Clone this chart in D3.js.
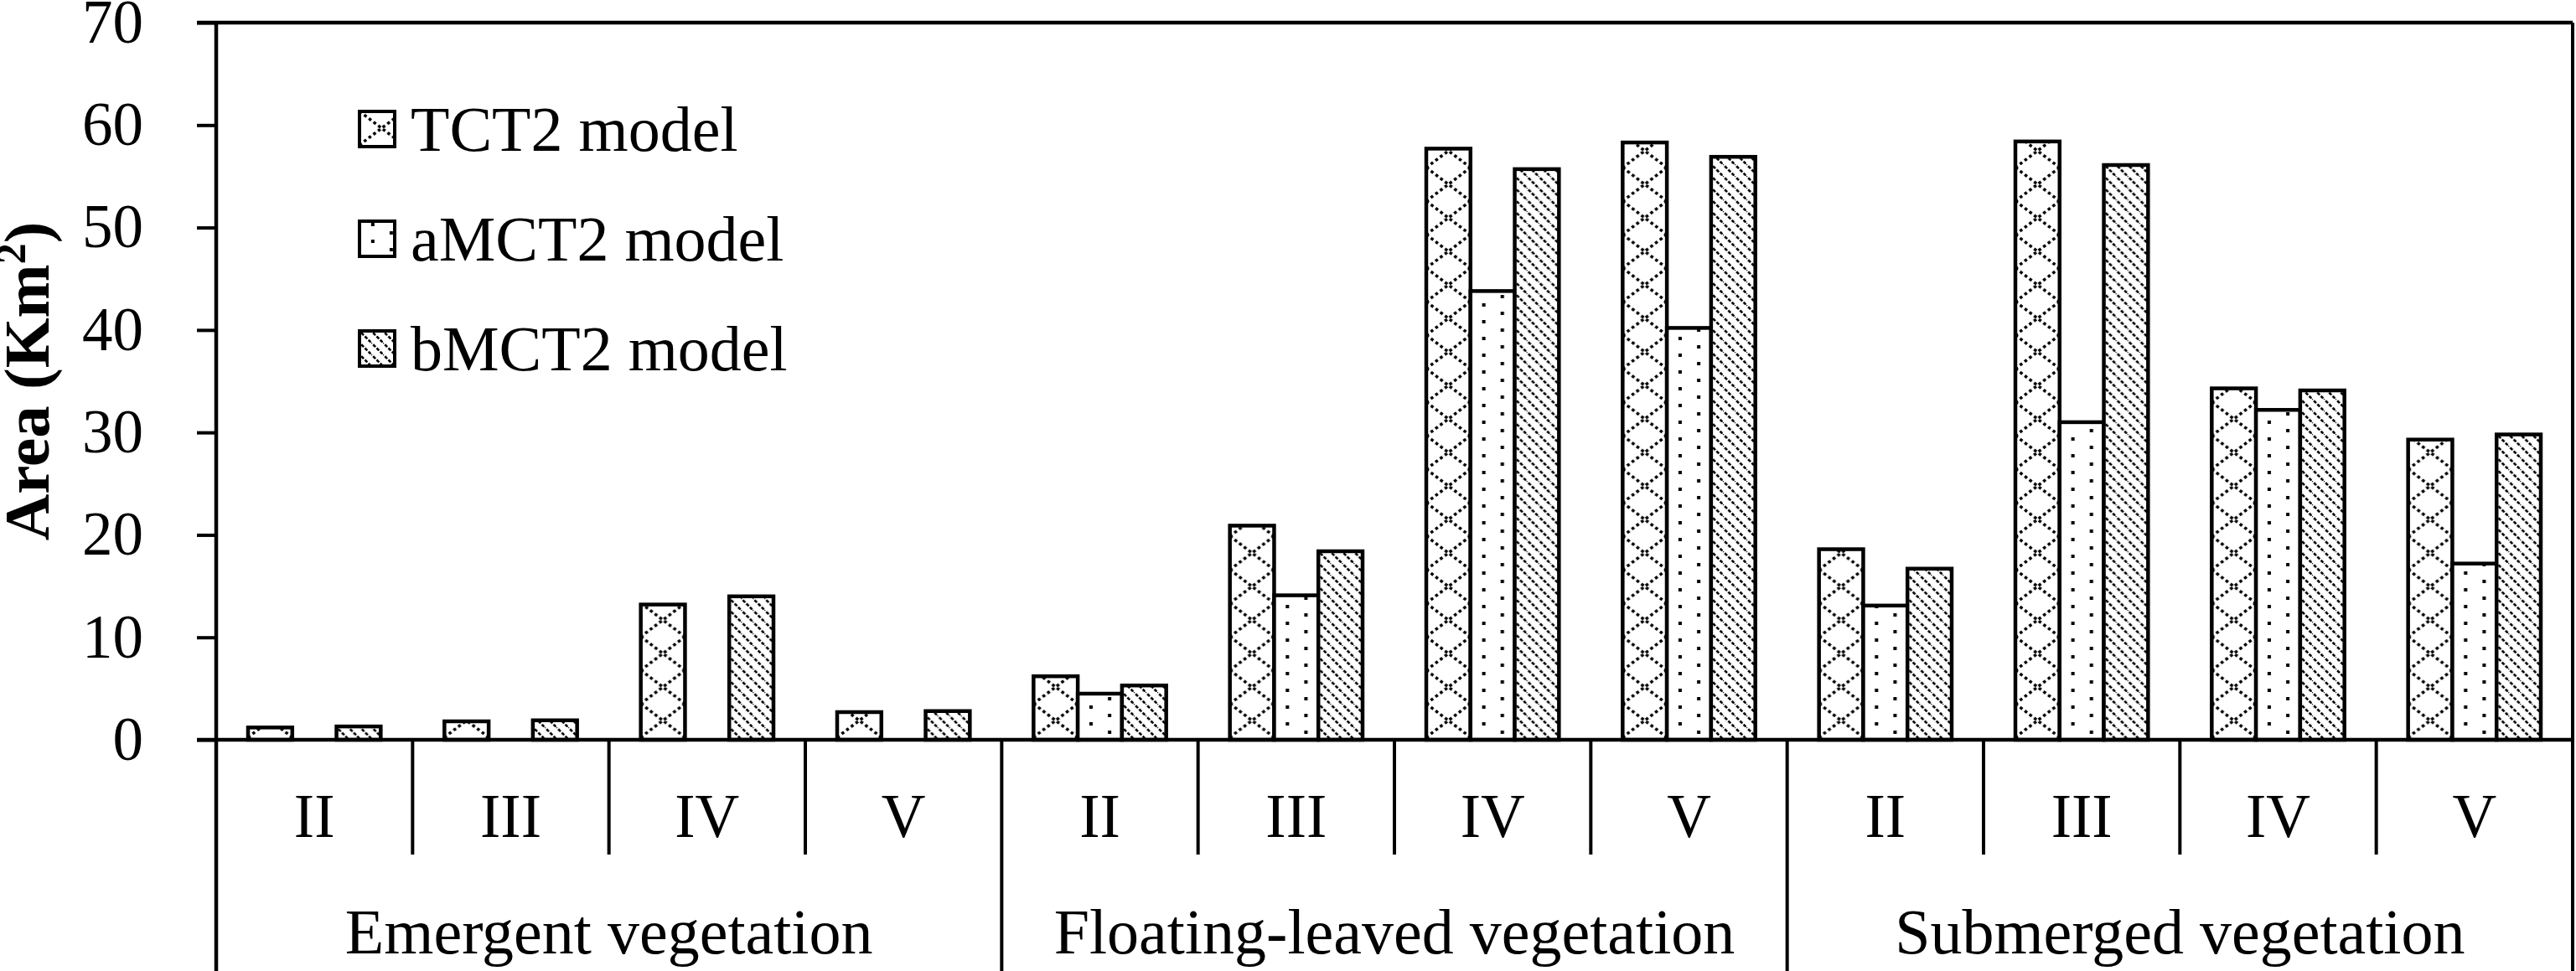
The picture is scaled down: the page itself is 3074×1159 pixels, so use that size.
<!DOCTYPE html>
<html>
<head>
<meta charset="utf-8">
<title>Area by vegetation type and model</title>
<script src="https://d3js.org/d3.v7.min.js"></script>
<style>
	body { margin: 0; background: #fff; }
	text { font-family: "Liberation Serif", "Times New Roman", serif; fill: #000; }
</style>
</head>
<body>
<script>
	// data (Km2), one value per class, groups in order
	var groups = ["Emergent vegetation", "Floating-leaved vegetation", "Submerged vegetation"];
	var classes = ["II", "III", "IV", "V"];
	var series = ["TCT2 model", "aMCT2 model", "bMCT2 model"];
	var tct2  = [1.2, 1.8, 13.2, 2.7,   6.2, 20.9, 57.7, 58.3,   18.6, 58.4, 34.3, 29.3];
	var amct2 = [null, null, null, null, 4.5, 14.1, 43.8, 40.2,   13.1, 31.0, 32.2, 17.2];
	var bmct2 = [1.3, 1.9, 14.0, 2.8,   5.3, 18.4, 55.7, 56.9,   16.7, 56.1, 34.1, 29.8];
	var yTicks = [0, 10, 20, 30, 40, 50, 60, 70];

	var width = 3074, height = 1159;
	// plot area (note: "top" is reserved on window)
	var plotLeft = 258, plotRight = 3070, plotTop = 27, plotBottom = 883;

	var svg = d3.select("body").append("svg")
		.attr("width", width)
		.attr("height", height);

	var cats = [];
	groups.forEach(function(g) {
		classes.forEach(function(c) { cats.push({ key: g + "|" + c, group: g, cls: c }); });
	});

	var x0 = d3.scaleBand().domain(cats.map(function(d) { return d.key; })).range([plotLeft, plotRight]);
	var x1 = d3.scaleBand().domain(series).range([0, x0.bandwidth()]).paddingOuter(0.72);
	var y = d3.scaleLinear().domain([0, 70]).range([plotBottom, plotTop]);
	var bw = x1.bandwidth();

	// fill patterns
	var defs = svg.append("defs");
	var p0 = defs.append("pattern").attr("id", "pat0").attr("patternUnits", "userSpaceOnUse")
		.attr("width", bw).attr("height", 40);
	p0.append("rect").attr("width", bw).attr("height", 40).attr("fill", "#fff");
	p0.append("path").attr("d", "M0,0L" + bw + ",40M" + bw + ",0L0,40")
		.attr("stroke", "#000").attr("stroke-width", 3.5).attr("stroke-dasharray", "3.5,3.5");

	var p1 = defs.append("pattern").attr("id", "pat1").attr("patternUnits", "userSpaceOnUse")
		.attr("width", bw).attr("height", 20);
	p1.append("rect").attr("width", bw).attr("height", 20).attr("fill", "#fff");
	p1.append("rect").attr("x", bw * 0.3 - 2).attr("y", 2).attr("width", 4).attr("height", 4).attr("fill", "#000");
	p1.append("rect").attr("x", bw * 0.72 - 2).attr("y", 12).attr("width", 4).attr("height", 4).attr("fill", "#000");

	var s = 14;
	var p2 = defs.append("pattern").attr("id", "pat2").attr("patternUnits", "userSpaceOnUse")
		.attr("width", s).attr("height", s);
	p2.append("rect").attr("width", s).attr("height", s).attr("fill", "#fff");
	p2.append("path").attr("d", "M-2,-2L" + (s + 2) + "," + (s + 2))
		.attr("stroke", "#000").attr("stroke-width", 2.6).attr("stroke-dasharray", "4,2");

	// bars
	var values = [tct2, amct2, bmct2];
	var data = [];
	cats.forEach(function(c, i) {
		series.forEach(function(sr, j) {
			if (values[j][i] != null) data.push({ cat: c.key, s: sr, j: j, v: values[j][i] });
		});
	});

	svg.selectAll("g.bar").data(data).enter().append("g")
		.attr("class", "bar")
		.attr("transform", function(d) { return "translate(" + (x0(d.cat) + x1(d.s)) + ",0)"; })
		.append("rect")
		.attr("x", 0)
		.attr("y", function(d) { return y(d.v); })
		.attr("width", bw)
		.attr("height", function(d) { return y(0) - y(d.v); })
		.attr("fill", function(d) { return "url(#pat" + d.j + ")"; })
		.attr("stroke", "#000")
		.attr("stroke-width", 4.5);

	// y axis
	var yAxis = svg.append("g")
		.attr("transform", "translate(" + plotLeft + ",0)")
		.call(d3.axisLeft(y).tickValues(yTicks).tickSize(23).tickPadding(64).tickSizeOuter(0));
	yAxis.select(".domain").remove();
	yAxis.selectAll(".tick line").attr("stroke", "#000").attr("stroke-width", 4);
	yAxis.selectAll(".tick text")
		.attr("font-family", "Liberation Serif, Times New Roman, serif")
		.attr("font-size", 73)
		.attr("fill", "#000");

	var lines = svg.append("g").attr("stroke", "#000");
	lines.append("line").attr("x1", plotLeft).attr("x2", plotLeft).attr("y1", plotTop).attr("y2", height).attr("stroke-width", 4.5);
	lines.append("line").attr("x1", plotRight).attr("x2", plotRight).attr("y1", plotTop).attr("y2", height).attr("stroke-width", 4);
	lines.append("line").attr("x1", plotLeft - 23).attr("x2", plotRight).attr("y1", y(70)).attr("y2", y(70)).attr("stroke-width", 4.5);
	lines.append("line").attr("x1", plotLeft - 23).attr("x2", plotRight).attr("y1", y(0)).attr("y2", y(0)).attr("stroke-width", 4.5);

	// category separators: short between classes, long between groups
	cats.forEach(function(c, i) {
		if (i == 0) return;
		var xx = x0(c.key);
		var isGroup = classes.indexOf(c.cls) == 0;
		lines.append("line").attr("x1", xx).attr("x2", xx)
			.attr("y1", y(0)).attr("y2", isGroup ? height : 1020)
			.attr("stroke-width", 4);
	});

	svg.selectAll("text.cls").data(cats).enter().append("text")
		.attr("class", "cls")
		.attr("x", function(d) { return x0(d.key) + x0.bandwidth() / 2; })
		.attr("y", 999)
		.attr("text-anchor", "middle")
		.attr("font-size", 73)
		.text(function(d) { return d.cls; });

	svg.selectAll("text.grp").data(groups).enter().append("text")
		.attr("class", "grp")
		.attr("x", function(g) { return x0(g + "|" + classes[0]) + x0.bandwidth() * classes.length / 2; })
		.attr("y", 1138)
		.attr("text-anchor", "middle")
		.attr("font-size", 76)
		.text(function(g) { return g; });

	// y title
	var title = svg.append("text")
		.attr("transform", "translate(58," + ((plotTop + plotBottom) / 2) + ") rotate(-90)")
		.attr("text-anchor", "middle")
		.attr("font-size", 77)
		.attr("font-weight", "bold");
	title.append("tspan").text("Area (Km");
	title.append("tspan").attr("font-size", 50).attr("dy", -28).text("2");
	title.append("tspan").attr("dy", 28).text(")");

	// legend
	var legend = svg.selectAll("g.legend").data(series).enter().append("g")
		.attr("class", "legend")
		.attr("transform", function(d, i) { return "translate(429," + (133 + i * 131) + ")"; });
	legend.append("rect")
		.attr("width", 42).attr("height", 42)
		.attr("fill", function(d, i) { return "url(#pat" + i + ")"; })
		.attr("stroke", "#000").attr("stroke-width", 4);
	legend.append("text")
		.attr("x", 61).attr("y", 47)
		.attr("font-size", 76)
		.text(function(d) { return d; });
</script>
</body>
</html>
